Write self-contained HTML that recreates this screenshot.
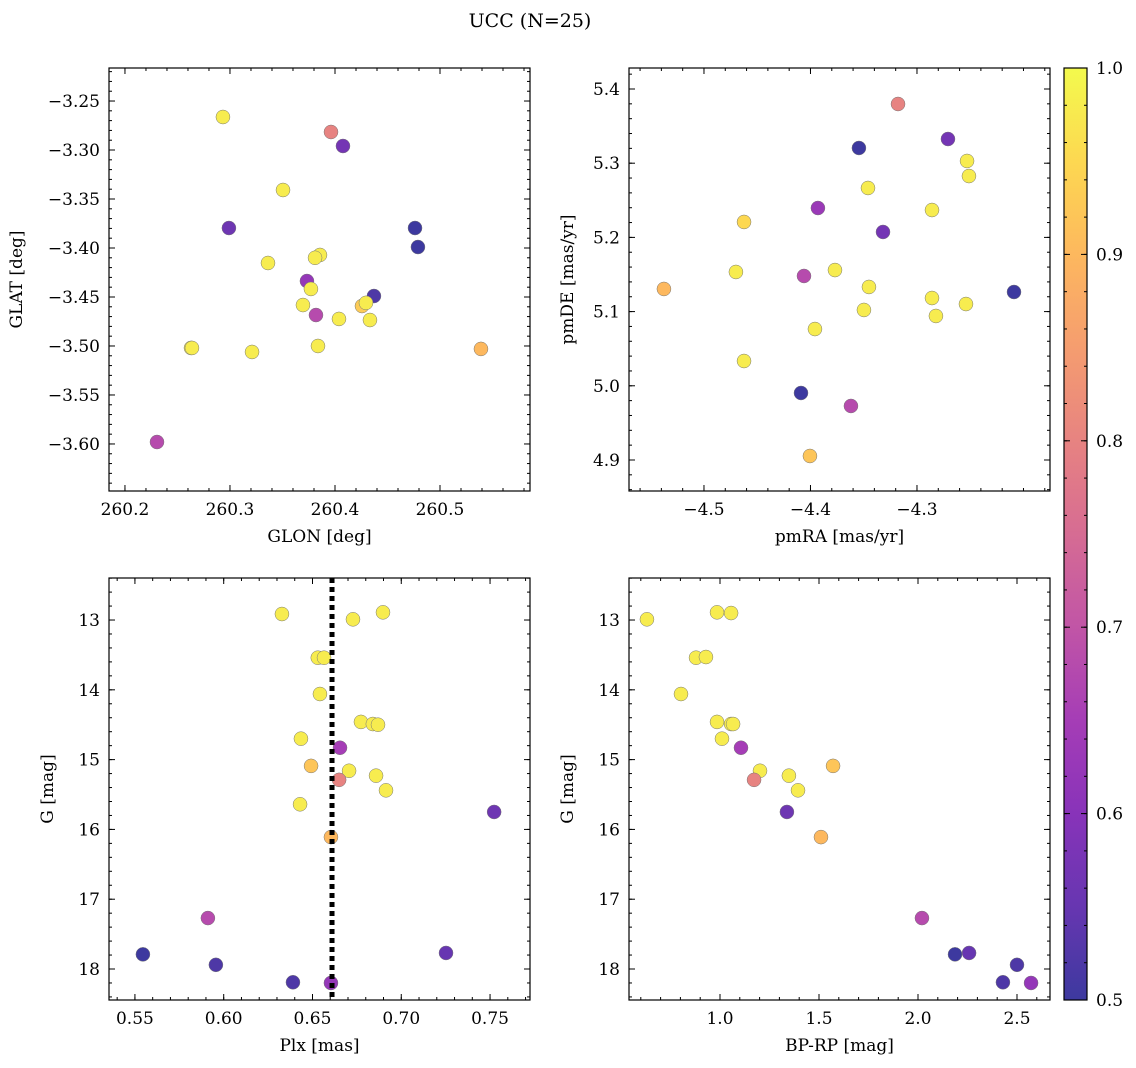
<!DOCTYPE html>
<html><head><meta charset="utf-8">
<style>
html,body{margin:0;padding:0;background:#fff;}
svg{display:block;font-family:"DejaVu Serif","Liberation Serif",serif;}
</style></head>
<body>
<svg id="chart" width="1136" height="1068" viewBox="0 0 1136 1068" xmlns="http://www.w3.org/2000/svg">
<text x="530" y="27" font-size="19" text-anchor="middle">UCC (N=25)</text>
</svg>
<script>
// Panel 1: GLON / GLAT
const glon = [260.2933,260.3962,260.4076,260.3505,260.299,260.4762,260.479,260.3857,260.381,260.3362,260.3733,260.3771,260.3695,260.4371,260.4257,260.4295,260.3819,260.4038,260.4333,260.2629,260.2638,260.3838,260.321,260.539,260.2305];
const glat = [-3.2663,-3.2816,-3.2959,-3.3408,-3.3796,-3.3796,-3.399,-3.4071,-3.410,-3.4153,-3.4337,-3.4418,-3.4582,-3.449,-3.4592,-3.456,-3.4684,-3.4724,-3.4735,-3.502,-3.502,-3.5,-3.5061,-3.503,-3.598];
const probTL = [0.98,0.8,0.57,0.98,0.56,0.5,0.5,0.98,0.98,0.98,0.62,0.98,0.98,0.52,0.93,0.98,0.68,0.98,0.98,0.98,0.98,0.98,0.98,0.9,0.68];
// Panel 2: pmRA / pmDE
const pmra = [-4.3178,-4.3545,-4.2709,-4.253,-4.346,-4.2512,-4.2859,-4.393,-4.4624,-4.3319,-4.47,-4.377,-4.4061,-4.3451,-4.5376,-4.2089,-4.2859,-4.254,-4.3498,-4.2822,-4.3958,-4.4624,-4.4089,-4.362,-4.4005];
const pmde = [5.3798,5.3205,5.3326,5.303,5.2666,5.2827,5.2369,5.2396,5.2208,5.2073,5.1534,5.156,5.148,5.1332,5.1305,5.1264,5.1183,5.1102,5.1022,5.0941,5.0765,5.0334,4.9903,4.9728,4.9054];
const probTR = [0.8,0.5,0.57,0.98,0.98,0.98,0.98,0.63,0.95,0.57,0.98,0.98,0.68,0.98,0.9,0.5,0.98,0.98,0.98,0.98,0.98,0.98,0.5,0.68,0.92];
// Panel 3: Plx / G
const plx = [0.6328,0.6728,0.6897,0.653,0.6565,0.6542,0.6773,0.684,0.6869,0.6435,0.6655,0.6492,0.6706,0.665,0.6858,0.6914,0.643,0.7523,0.6604,0.5911,0.5545,0.7252,0.5956,0.639,0.6604];
const gmagBL = [12.914,12.99,12.89,13.54,13.54,14.06,14.46,14.49,14.50,14.70,14.83,15.09,15.16,15.29,15.23,15.44,15.64,15.75,16.11,17.27,17.79,17.77,17.94,18.19,18.20];
const probBL = [0.98,0.98,0.98,0.98,0.98,0.98,0.98,0.98,0.98,0.98,0.65,0.92,0.98,0.8,0.98,0.98,0.98,0.56,0.9,0.68,0.5,0.55,0.52,0.52,0.62];
const plxMean = [0.661];
// Panel 4: BP-RP / G
const bprp = [0.631,0.985,1.056,0.879,0.929,0.803,0.985,1.056,1.066,1.01,1.106,1.202,1.172,1.348,1.571,1.394,1.338,1.51,2.02,2.187,2.258,2.5,2.429,2.571];
const gmagBR = [12.99,12.89,12.9,13.54,13.53,14.06,14.46,14.49,14.49,14.70,14.83,15.16,15.29,15.23,15.09,15.44,15.75,16.11,17.27,17.79,17.77,17.94,18.19,18.20];
const probBR = [0.98,0.98,0.98,0.98,0.98,0.98,0.98,0.98,0.98,0.98,0.65,0.98,0.8,0.98,0.92,0.98,0.56,0.9,0.68,0.5,0.55,0.52,0.52,0.62];
// tick labels
const tlXTicks = [260.2,260.3,260.4,260.5];
const tlYTicks = [-3.25,-3.30,-3.35,-3.40,-3.45,-3.50,-3.55,-3.60];
const trXTicks = [-4.5,-4.4,-4.3];
const trYTicks = [4.9,5.0,5.1,5.2,5.3,5.4];
const blXTicks = [0.55,0.60,0.65,0.70,0.75];
const gTicks = [13,14,15,16,17,18];
const brXTicks = [1.0,1.5,2.0,2.5];
const cbTicks = [0.5,0.6,0.7,0.8,0.9,1.0];

const NS='http://www.w3.org/2000/svg';
const svg=document.getElementById('chart');
function mk(tag,attrs,parent){const e=document.createElementNS(NS,tag);for(const k in attrs)e.setAttribute(k,attrs[k]);(parent||svg).appendChild(e);return e;}

const stops=['#0d0887','#41049d','#6a00a8','#8f0da4','#b12a90','#cc4778','#e16462','#f2844b','#fca636','#fcce25','#f0f921'];
function hex(h){return [1,3,5].map(i=>parseInt(h.substr(i,2),16));}
function plasma(v){let t=(v-0.5)/0.5;t=Math.max(0,Math.min(1,t));const p=t*10,i=Math.min(9,Math.floor(p)),f=p-i;const a=hex(stops[i]),b=hex(stops[i+1]);
 const c=a.map((x,k)=>Math.round((x+(b[k]-x)*f)*0.8+255*0.2));return `rgb(${c[0]},${c[1]},${c[2]})`;}

function panel(name,L,T,R,B,xmin,xmax,ymin,ymax,inv,xt,yt,xminor,yminor,xfmt,yfmt,xlabel,ylabel,xs,ys,ps){
 const g=mk('g',{});
 
 
 const sx=v=>L+(v-xmin)/(xmax-xmin)*(R-L);
 const sy=v=>inv? T+(v-ymin)/(ymax-ymin)*(B-T) : B-(v-ymin)/(ymax-ymin)*(B-T);
 for(let i=0;i<xs.length;i++){
  const c=mk('circle',{cx:sx(xs[i]),cy:sy(ys[i]),r:7,fill:plasma(ps[i]),stroke:'#777','stroke-width':0.5},g);
  
  
 }
 const fr=mk('rect',{x:L,y:T,width:R-L,height:B-T,fill:'none',stroke:'#000','stroke-width':1.2},g);
 
 
 // minor ticks
 const s0=Math.ceil(xmin/xminor-1e-6),s1=Math.floor(xmax/xminor+1e-6);
 for(let k=s0;k<=s1;k++){const x=sx(k*xminor);mk('line',{x1:x,x2:x,y1:B,y2:B-3,stroke:'#000'},g);mk('line',{x1:x,x2:x,y1:T,y2:T+3,stroke:'#000'},g);}
 const lo=Math.min(ymin,ymax),hi=Math.max(ymin,ymax);
 const t0=Math.ceil(lo/yminor-1e-6),t1=Math.floor(hi/yminor+1e-6);
 for(let k=t0;k<=t1;k++){const y=sy(k*yminor);mk('line',{x1:L,x2:L+3,y1:y,y2:y,stroke:'#000'},g);mk('line',{x1:R,x2:R-3,y1:y,y2:y,stroke:'#000'},g);}
 xt.forEach(v=>{const x=sx(v);mk('line',{x1:x,x2:x,y1:B,y2:B-6,stroke:'#000'},g);mk('line',{x1:x,x2:x,y1:T,y2:T+6,stroke:'#000'},g);
  const t=mk('text',{x:x,y:B+24,'font-size':17,'text-anchor':'middle'},g);t.textContent=xfmt(v);
  
  });
 yt.forEach(v=>{const y=sy(v);mk('line',{x1:L,x2:L+6,y1:y,y2:y,stroke:'#000'},g);mk('line',{x1:R,x2:R-6,y1:y,y2:y,stroke:'#000'},g);
  const t=mk('text',{x:L-9,y:y+6,'font-size':17,'text-anchor':'end'},g);t.textContent=yfmt(v);
  
  });
 const xl=mk('text',{x:(L+R)/2,y:B+51,'font-size':17,'text-anchor':'middle'},g);xl.textContent=xlabel;
 
 
 const yl=mk('text',{x:0,y:0,'font-size':17,'text-anchor':'middle',transform:`translate(${name==='panel-glon-glat'?22:L-56},${(T+B)/2}) rotate(-90)`},g);yl.textContent=ylabel;
 
 
 return {sx,sy,g};
}
const m=s=>s.replace('-','\u2212');
panel('panel-glon-glat',109,68,530,491,260.1848,260.5857,-3.648,-3.2163,false,tlXTicks,tlYTicks,0.02,0.01,v=>v.toFixed(1),v=>m(v.toFixed(2)),'GLON [deg]','GLAT [deg]',glon,glat,probTL);
panel('panel-pmra-pmde',629,68,1050,491,-4.5704,-4.1751,4.8582,5.4283,false,trXTicks,trYTicks,0.02,0.02,v=>m(v.toFixed(1)),v=>v.toFixed(1),'pmRA [mas/yr]','pmDE [mas/yr]',pmra,pmde,probTR);
const bl=panel('panel-plx-g',109,578,530,1000,0.5354,0.7725,12.398,18.444,true,blXTicks,gTicks,0.01,0.2,v=>v.toFixed(2),v=>String(v),'Plx [mas]','G [mag]',plx,gmagBL,probBL);
const ln=mk('line',{x1:bl.sx(plxMean[0]),x2:bl.sx(plxMean[0]),y1:578,y2:1000,stroke:'#000','stroke-width':5,'stroke-dasharray':'5,4'},bl.g);


panel('panel-bprp-g',629,578,1050,1000,0.5404,2.6667,12.398,18.444,true,brXTicks,gTicks,0.1,0.2,v=>v.toFixed(1),v=>String(v),'BP-RP [mag]','G [mag]',bprp,gmagBR,probBR);

// colorbar
const cb=mk('g',{});


const defs=mk('defs',{},cb);
const lg=mk('linearGradient',{id:'cbg',x1:0,y1:1,x2:0,y2:0},defs);
for(let i=0;i<=20;i++){const v=0.5+i*0.025;mk('stop',{offset:i/20,'stop-color':plasma(v)},lg);}
mk('rect',{x:1064,y:68,width:23,height:932,fill:'url(#cbg)',stroke:'#000','stroke-width':1.2},cb);
const cy=v=>1000-(v-0.5)/0.5*932;
for(let k=25;k<=50;k++){const y=cy(k*0.02);mk('line',{x1:1087,x2:1084,y1:y,y2:y,stroke:'#000'},cb);mk('line',{x1:1064,x2:1067,y1:y,y2:y,stroke:'#000'},cb);}
cbTicks.forEach(v=>{const y=cy(v);mk('line',{x1:1087,x2:1081,y1:y,y2:y,stroke:'#000'},cb);mk('line',{x1:1064,x2:1070,y1:y,y2:y,stroke:'#000'},cb);
 const t=mk('text',{x:1096,y:y+6,'font-size':17},cb);t.textContent=v.toFixed(1);
 
 });
</script>
</body></html>
